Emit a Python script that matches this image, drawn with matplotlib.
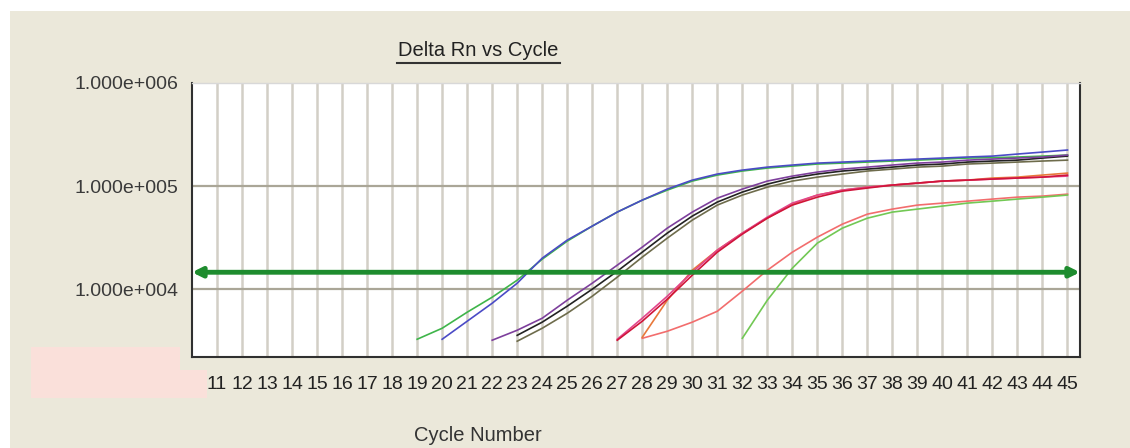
import matplotlib.pyplot as plt
from matplotlib.patches import Rectangle
from matplotlib.lines import Line2D

plt.rcParams['font.family'] = ['Liberation Sans', 'DejaVu Sans']

# cycle numbers and Delta Rn readings per well
green_cyc = list(range(19, 46))
green_rn = [3270, 4180, 5980, 8360, 12230, 19550, 29250, 40920, 55970, 73110,
            91410, 111900, 127900, 140000, 149600, 156300, 163700, 167100, 171000,
            175000, 178600, 182800, 187100, 189000, 191400, 195400, 200000]

blue_cyc = list(range(20, 46))
blue_rn = [3270, 4890, 7310, 11430, 20000, 29940, 40920, 55970, 73110, 93540,
           114300, 130900, 142900, 152800, 160000, 167100, 171000, 175000, 178600,
           182800, 187100, 191400, 195400, 204600, 213800, 223900]

purple_cyc = list(range(22, 46))
purple_rn = [3200, 4000, 5230, 7820, 11430, 17100, 25590, 39100, 55970, 76380,
             93540, 111900, 125000, 136800, 146200, 152800, 160000, 167100, 171000,
             178600, 182800, 187100, 191400, 200000]

black_cyc = list(range(23, 46))
black_rn = [3570, 4790, 6840, 10000, 14950, 22870, 34990, 51170, 69980, 87500,
            104500, 119700, 130900, 140000, 146200, 152800, 160000, 163700, 171000,
            175000, 178600, 187100, 195400]

olive_cyc = list(range(23, 46))
olive_rn = [3130, 4180, 5840, 8550, 13080, 20470, 31270, 46780, 65430, 81850,
            97720, 111900, 122200, 130900, 140000, 146200, 152800, 156300, 163700,
            167100, 171000, 175000, 178600]

pink_cyc = list(range(27, 46))
pink_rn = [3270, 5230, 8550, 14630, 23930, 34990, 50010, 68390, 81850, 91410,
           97720, 102300, 106900, 111900, 114300, 117000, 119700, 122200, 125000]

crimson_cyc = list(range(27, 46))
crimson_rn = [3200, 4890, 8000, 13680, 22870, 34200, 48870, 65430, 78160, 89330,
              95720, 102300, 106900, 111900, 114300, 117000, 119700, 122200, 127900]

orange_cyc = list(range(28, 46))
orange_rn = [3420, 7820, 15280, 23930, 34990, 48870, 66830, 81850, 91410, 97720,
             102300, 106900, 111900, 114300, 119700, 122200, 127900, 133700]

salmon_cyc = list(range(28, 46))
salmon_rn = [3340, 3910, 4790, 6110, 9570, 15280, 22870, 31990, 42760, 53480,
             59840, 65430, 68390, 71450, 74820, 78160, 79980, 83560]

lgreen_cyc = list(range(32, 46))
lgreen_rn = [3340, 7820, 15990, 27990, 39100, 48870, 55970, 59840, 63970, 68390,
             71450, 74820, 78160, 81850]

threshold = 14600
x_ticks = list(range(11, 46))
y_ticks = [1e4, 1e5, 1e6]
y_tick_labels = ['1.000e+004', '1.000e+005', '1.000e+006']

fig = plt.figure(figsize=(11.3, 4.48), dpi=100, facecolor='white')

# beige panel and the pink patch at lower left
fig.add_artist(Rectangle((10 / 1130, 0), 1, 437 / 448, transform=fig.transFigure,
                         facecolor='#ebe8da', edgecolor='none', zorder=0))
fig.add_artist(Rectangle((31 / 1130, 50 / 448), 149 / 1130, 51 / 448,
                         transform=fig.transFigure, facecolor='#fae0da',
                         edgecolor='none', zorder=0))
fig.add_artist(Rectangle((180 / 1130, 50 / 448), 27 / 1130, 28 / 448,
                         transform=fig.transFigure, facecolor='#fae0da',
                         edgecolor='none', zorder=0))

ax = fig.add_axes([192 / 1130, 91 / 448, 888 / 1130, 274 / 448])
ax.set_facecolor('white')
ax.set_yscale('log')

# grid
for c in x_ticks:
    ax.axvline(c, color='#d2cfc6', lw=1.8, zorder=1)
for v in [1e4, 1e5]:
    ax.axhline(v, color='#aaa697', lw=1.6, zorder=1)

curves = [
    (green_cyc, green_rn, '#3fb54a'),
    (blue_cyc, blue_rn, '#4b4bc6'),
    (olive_cyc, olive_rn, '#6e6c4c'),
    (black_cyc, black_rn, '#222222'),
    (purple_cyc, purple_rn, '#7d3f9c'),
    (salmon_cyc, salmon_rn, '#f26d6d'),
    (lgreen_cyc, lgreen_rn, '#72c854'),
    (orange_cyc, orange_rn, '#e8783a'),
    (pink_cyc, pink_rn, '#e2458c'),
    (crimson_cyc, crimson_rn, '#d0143a'),
]
for cyc, rn, col in curves:
    ax.plot(cyc, rn, color=col, lw=1.2, zorder=3)

# threshold line with arrows
ax.annotate('', xy=(45.5, threshold), xytext=(10.0, threshold),
            arrowprops=dict(arrowstyle='<|-|>', color='#1e8c2e', lw=3.5,
                            mutation_scale=14, shrinkA=0, shrinkB=0),
            zorder=4, annotation_clip=False)

ax.set_xlim(10, 45.5)
ax.set_ylim(2200, 1e6)

ax.set_xticks(x_ticks)
ax.set_xticklabels([str(c) for c in x_ticks], fontsize=14, color='#222222')
ax.set_yticks(y_ticks)
ax.set_yticklabels(y_tick_labels, fontsize=14, color='#3a3a3a')
ax.minorticks_off()
ax.tick_params(axis='x', length=0, pad=14)
ax.tick_params(axis='y', length=0, pad=10)

for side in ['left', 'bottom', 'right']:
    ax.spines[side].set_color('#303030')
    ax.spines[side].set_linewidth(1.5)
ax.spines['top'].set_color('#d8d8d8')
ax.spines['top'].set_linewidth(1.0)

# title with underline
fig.text(478 / 1130, 1 - 50 / 448, 'Delta Rn vs Cycle', ha='center', va='center',
         fontsize=14.5, color='#222222')
fig.add_artist(Line2D([397 / 1130, 560 / 1130], [1 - 63 / 448, 1 - 63 / 448],
                      transform=fig.transFigure, color='#333333', lw=1.5))

fig.text(478 / 1130, 1 - 435 / 448, 'Cycle Number', ha='center', va='center',
         fontsize=14.5, color='#333333')

plt.savefig('out.png', dpi=100)
